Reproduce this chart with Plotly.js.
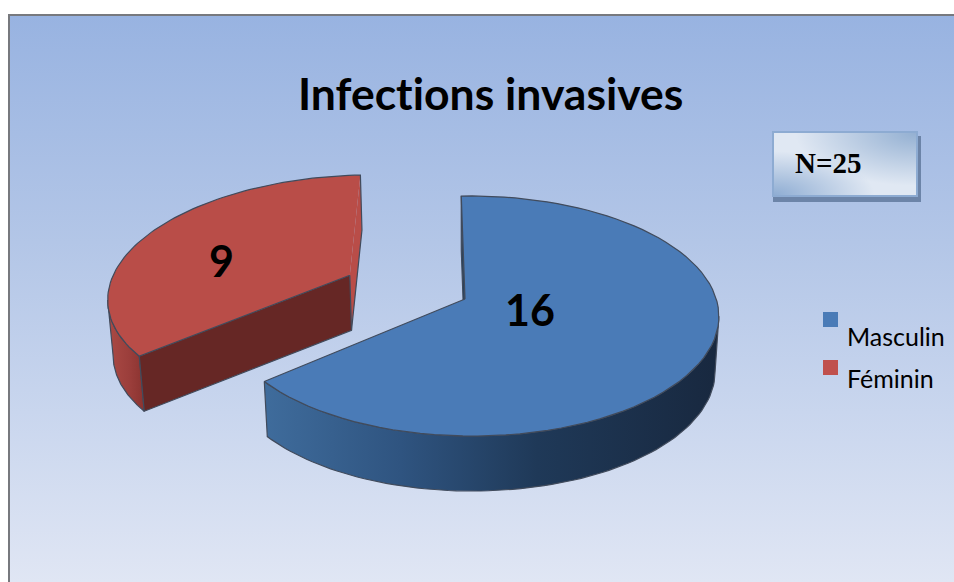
<!DOCTYPE html>
<html><head><meta charset="utf-8">
<script src="https://cdn.plot.ly/plotly-3.0.1.min.js"></script>
<style>
html,body{margin:0;padding:0;background:#fff;width:954px;height:582px;overflow:hidden}
#bg{position:absolute;left:8px;top:14px;width:946px;height:568px;box-sizing:border-box;border-left:2px solid #77797e;border-top:2px solid #77797e;background:linear-gradient(180deg,#98b3e1 0%,#b3c6e7 40%,#c9d6ee 70%,#e0e6f4 100%)}
#shadow{position:absolute;left:773px;top:136px;width:148px;height:66px;background:#6c84a8}
#box{position:absolute;left:772px;top:131px;width:146px;height:66px;box-sizing:border-box;border:2px solid #8dabd2;background:radial-gradient(ellipse at 0% 100%,#8fadd3 0%,rgba(143,173,211,0) 50%),radial-gradient(ellipse at 100% 0%,#94b0d2 0%,rgba(148,176,210,0) 60%),#e0e8f3}
#chart{position:absolute;left:0;top:0;width:954px;height:582px}
svg text{font-variant-ligatures:none !important;font-feature-settings:"liga" 0,"clig" 0 !important}
</style></head><body>
<div id="bg"></div><div id="shadow"></div><div id="box"></div><div id="chart"></div>
<script>
const categories = ["Masculin", "Féminin"];
const values = [16, 9];
const chartTitle = "Infections invasives";
const sampleNote = "N=25";

const total = values[0] + values[1];
const center = {x: 465, y: 299};
const R = 245, S = 117.6, kv = 0.1416, mu = -0.025, depth = 55, startDeg = -1;
function project(u, v) {
  const w = 1 + kv * v + mu * u;
  return [center.x + R * u / w, center.y - S * v / w];
}
function rimPoint(deg, o) {
  const a = deg * Math.PI / 180;
  return project(o.s * Math.sin(a) + o.u, o.s * Math.cos(a) + o.v);
}
function arc(a, b, o) {
  const pts = [], n = 80;
  for (let i = 0; i <= n; i++) pts.push(rimPoint(a + (b - a) * i / n, o));
  return pts;
}
function extremeDeg(a, b, o, sign) {
  let best = a, bx = -Infinity;
  for (let d = a; d <= b; d += 0.5) {
    const x = sign * rimPoint(d, o)[0];
    if (x > bx) { bx = x; best = d; }
  }
  return best;
}
function drop(p) { return [center.x + (p[0] - center.x) * 0.985, p[1] + depth]; }
const outline = {color: "#414b5c", width: 1.2};
function poly(pts, style) {
  const c = pts.concat([pts[0]]);
  return Object.assign({type: "scatter", mode: "lines", x: c.map(p => p[0]), y: c.map(p => p[1]),
    fill: "toself", hoverinfo: "skip", showlegend: false, line: outline}, style);
}
function stroke(pts) {
  return {type: "scatter", mode: "lines", x: pts.map(p => p[0]), y: pts.map(p => p[1]),
    hoverinfo: "skip", showlegend: false, line: outline};
}
const noLine = {width: 0, color: "rgba(0,0,0,0)"};
const blueAngle = values[0] / total * 360;
const bo = {s: 1, u: 0, v: 0};
const ro = {s: 1.045, u: -0.49, v: 0.21};
const bEnd = startDeg + blueAngle;
const rEnd = startDeg + 360;

const bApex = project(bo.u, bo.v), bArc = arc(startDeg, bEnd, bo);
const rApex = project(ro.u, ro.v), rArc = arc(bEnd, rEnd, ro);
const rp0 = rimPoint(bEnd, ro), rp1 = rimPoint(rEnd, ro);

const traces = [];
// blue cut sliver
traces.push(poly([bArc[0], drop(bArc[0]), drop(bApex), bApex], {fillcolor: "#24415f"}));
// blue rim side
const bSide = arc(extremeDeg(60, 130, bo, 1), bEnd, bo);
traces.push(poly(bSide.concat(bSide.map(drop).reverse()), {
  fillgradient: {type: "horizontal", colorscale: [[0, "#3f6c9c"], [0.3, "#2f5480"], [0.6, "#1f3958"], [1, "#18283f"]]},
  fillcolor: "#2a4a70"}));
// blue top
traces.push(poly([bApex].concat(bArc), {fillcolor: "#4a7bb7"}));
// red rim side
const rSide = arc(bEnd, extremeDeg(bEnd, rEnd, ro, -1), ro);
traces.push(poly(rSide.concat(rSide.map(drop).reverse()), {
  fillgradient: {type: "horizontal", colorscale: [[0, "#ab4a45"], [0.6, "#9b3e3b"], [1, "#8a3330"]]},
  fillcolor: "#9b3e3b"}));
// red top and right sliver, one tone with no seam
traces.push(poly([rApex].concat(rArc), {fillcolor: "#b94d48", line: noLine}));
traces.push(poly([rp1, drop(rp1), drop(rApex), rApex], {fillcolor: "#b94d48", line: noLine}));
traces.push(stroke(rArc.concat([drop(rp1), drop(rApex)])));
// red cut face
traces.push(poly([rApex, rp0, drop(rp0), drop(rApex)], {fillcolor: "#662725"}));
// legend marks
const legendColors = ["#4a7bb7", "#c0504d"];
traces.push({type: "scatter", mode: "markers", x: [830.5, 830.5], y: [319.5, 367.5], hoverinfo: "skip", showlegend: false,
  marker: {symbol: "square", size: 15, color: legendColors, line: {width: 0}}});

const bodyFont = "Lato, Carlito, sans-serif";
const txt = (x, y, text, size, bold, anchor, family) => ({x, y, xref: "x", yref: "y", text: bold ? "<b>" + text + "</b>" : text,
  showarrow: false, xanchor: anchor || "center", yanchor: "middle",
  font: {family: family || bodyFont, size, color: "#000"}});

const layout = {
  width: 954, height: 582, margin: {l: 0, r: 0, t: 0, b: 0}, showlegend: false,
  paper_bgcolor: "rgba(0,0,0,0)", plot_bgcolor: "rgba(0,0,0,0)",
  xaxis: {range: [0, 954], visible: false, fixedrange: true},
  yaxis: {range: [582, 0], visible: false, fixedrange: true},
  annotations: [
    txt(490, 92, chartTitle, 44.5, true),
    txt(828, 163, sampleNote, 29, true, "center", "Liberation Serif"),
    txt(530, 309, String(values[0]), 43, true),
    txt(221, 260, String(values[1]), 43, true),
    txt(845, 336, categories[0], 25, false, "left"),
    txt(845, 378, categories[1], 25, false, "left")
  ]
};
Plotly.newPlot("chart", traces, layout, {displayModeBar: false, staticPlot: true});
</script></body></html>
